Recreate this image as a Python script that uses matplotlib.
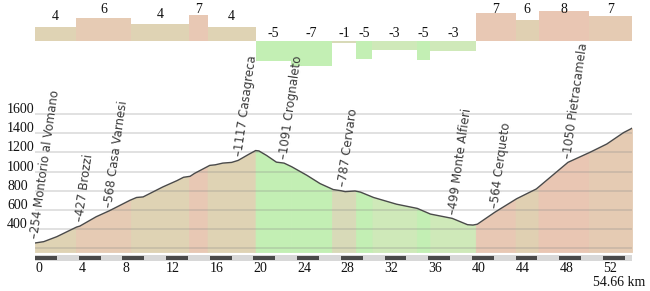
import numpy as np
import matplotlib
matplotlib.use('Agg')
import matplotlib.pyplot as plt
from matplotlib.transforms import blended_transform_factory as blend

# ---------------- data ----------------
km = [0, 0.8, 2.0, 3.8, 4.1, 5.6, 6.8, 8.7, 9.3, 9.9, 11.7, 13.0, 13.6, 14.2, 14.6,
      16.0, 16.5, 17.2, 18.0, 18.6, 19.5, 20.2, 20.5, 21.2, 22.1, 22.8, 23.5, 24.9,
      26.1, 27.3, 28.0, 28.4, 29.3, 29.8, 31.0, 33.1, 35.0, 36.2, 38.2, 39.6, 40.1,
      40.5, 41.05, 42.1, 44.1, 45.9, 48.8, 50.8, 52.35, 53.9, 54.5, 54.66]
elev = [254, 268, 320, 420, 430, 528, 590, 700, 729, 735, 839, 905, 940, 950, 980,
        1064, 1070, 1088, 1095, 1116, 1175, 1219, 1215, 1168, 1098, 1088, 1050, 960,
        874, 812, 800, 790, 797, 785, 729, 659, 615, 556, 511, 445, 441,
        450, 493, 575, 716, 818, 1096, 1200, 1287, 1407, 1442, 1452]

seg_start = [0, 3.75, 8.8, 14.1, 15.8, 20.2, 23.4, 27.2, 29.4, 30.9, 34.96, 36.2,
             40.36, 44.0, 46.1, 50.7]
total_km = 54.66
grade = [3.9, 6.1, 4.5, 6.9, 3.9, -5.4, -6.8, -0.6, -4.9, -2.5, -5.1, -2.7,
         7.6, 5.7, 8.1, 6.8]
grade_label = ['4', '6', '4', '7', '4', '-5', '-7', '-1', '-5', '-3', '-5', '-3',
               '7', '6', '8', '7']
seg_color = ['#dfd3b4', '#e6cbb4', '#dfd3b4', '#e8c8b4', '#dfd3b4', '#c3efb4',
             '#c3efb4', '#d8dab8', '#c3efb4', '#cfe9b9', '#c3efb4', '#cfe9b9',
             '#e8c8b4', '#e0d0b2', '#e9c6b3', '#e5cbb3']

place_km = [0, 4.1, 6.7, 18.6, 22.8, 28.2, 38.2, 42.1, 48.8]
place_label = ['254 Montorio al Vomano', '427 Brozzi', '568 Casa Varnesi',
               '1117 Casagreca', '1091 Crognaleto', '787 Cervaro',
               '499 Monte Alfieri', '564 Cerqueto', '1050 Pietracamela']

y_grid = [200, 400, 600, 800, 1000, 1200, 1400, 1600]
y_tick_labels = ['400', '600', '800', '1000', '1200', '1400', '1600']
x_ticks = [0, 4, 8, 12, 16, 20, 24, 28, 32, 36, 40, 44, 48, 52]

# ---------------- layout ----------------
W, H = 650, 291
fig = plt.figure(figsize=(W / 100, H / 100), dpi=100)
fig.patch.set_facecolor('white')


def ax_px(x0, y0, x1, y1):
    a = fig.add_axes([x0 / W, 1 - y1 / H, (x1 - x0) / W, (y1 - y0) / H])
    a.set_axis_off()
    return a


X0, X1 = 35, 632
PXM = 0.0958  # px per metre


def e_at(ypx):
    return 400 + (229 - ypx) / PXM


serif = 'Liberation Serif'

# ---------------- gradient bars ----------------
PXG = 3.7
gx = ax_px(X0, 0, X1, 72)
gx.set_zorder(1)
gx.set_xlim(0, total_km)
gx.set_ylim(-(72 - 41) / PXG, 41 / PXG)
seg_end = seg_start[1:] + [total_km]
widths = [b - a for a, b in zip(seg_start, seg_end)]
gx.bar(seg_start, grade, width=widths, align='edge', color=seg_color, lw=0)
for a, b, g, lab in zip(seg_start, seg_end, grade, grade_label):
    if g > 0:
        ypx = min(g * PXG + 6.5, 41 - 13.3)
    else:
        ypx = 4.3
    gx.text((a + b) / 2, ypx / PXG, lab, ha='center', va='baseline', fontsize=10,
            family=serif, color='#111111')

# ---------------- main profile ----------------
ax = ax_px(X0, 45, X1, 252)
ax.set_zorder(2)
ax.patch.set_visible(False)
ax.set_xlim(0, total_km)
ybot, ytop = e_at(252), e_at(45)
ax.set_ylim(ybot, ytop)

for a, b, c in zip(seg_start, seg_end, seg_color):
    xs = [a] + [k for k in km if a < k < b] + [b]
    ys = np.interp(xs, km, elev)
    ax.fill_between(xs, ybot, ys, color=c, lw=0.6, edgecolor=c, zorder=2)

ax.plot(km, elev, color='#4a4a4a', lw=1.0, zorder=6)

for g in y_grid:
    ax.axhline(g, color='#888888', alpha=0.3, lw=1.2, zorder=5)

tr_y = blend(fig.transFigure, ax.transData)
for lab in y_tick_labels:
    ax.text(7 / W, float(lab) + 10, lab, transform=tr_y, ha='left', va='baseline',
            fontsize=10, family=serif, color='#111111')

tr_x = blend(ax.transData, fig.transFigure)
for t in x_ticks:
    ax.text(t, 1 - 269 / H, str(t), transform=tr_x, ha='left', va='center',
            fontsize=10, family=serif, color='#111111')
fig.text(645 / W, 1 - 283 / H, '54.66 km', ha='right', va='center',
         fontsize=10, family=serif, color='#111111')

for k, lab in zip(place_km, place_label):
    e = float(np.interp(k, km, elev))
    ax.annotate('\u2013' + lab, xy=(k, e), xytext=(0, 3), textcoords='offset points',
                rotation=82, rotation_mode='anchor', ha='left', va='center',
                fontsize=8.5, color='#3a3a3a', annotation_clip=False, zorder=7)

# ---------------- scale bar ----------------
sb = ax_px(X0, 255, X1, 261)
sb.set_xlim(0, total_km)
sb.set_ylim(0, 1)
sb.axvspan(0, total_km, color='#d8d8d8', lw=0)
for s in range(0, 54, 4):
    sb.axvspan(s, min(s + 2, total_km), ymin=0.2, ymax=0.8, color='#4a4a4a', lw=0)

fig.savefig('out.png', dpi=100, facecolor='white')
